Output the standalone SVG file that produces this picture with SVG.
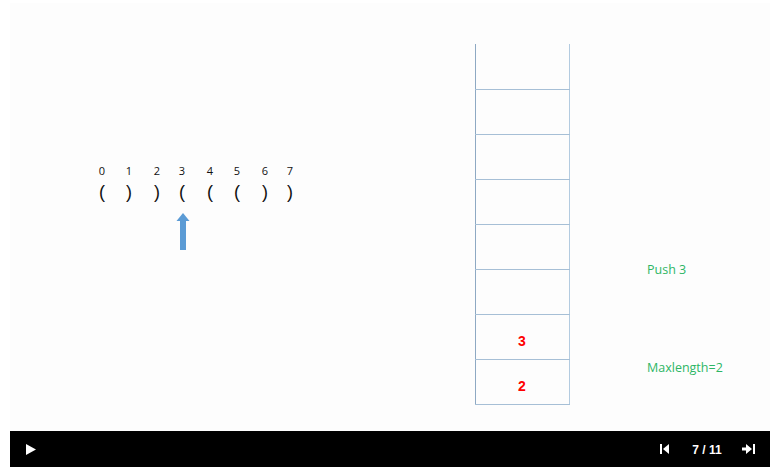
<svg xmlns="http://www.w3.org/2000/svg" width="773" height="467" viewBox="0 0 773 467">
<style>
.idx{font-family:"Open Sans","Liberation Sans",sans-serif;font-size:11px;fill:#111;text-anchor:middle}
.par{font-family:"Liberation Sans",sans-serif;font-size:18px;fill:#111;text-anchor:middle}
.cell{fill:none;stroke:#a6bfd6;stroke-width:1}
.val{font-family:"Liberation Sans",sans-serif;font-size:14px;font-weight:bold;fill:#ff0000;text-anchor:middle}
.note{font-family:"Open Sans","Liberation Sans",sans-serif;font-size:12.5px;fill:#2db665}
.ctl{fill:#ffffff}
</style>
<rect x="0" y="0" width="773" height="467" fill="#ffffff"/>
<rect x="10" y="3" width="760" height="428" fill="#fdfdfd"/>
<g id="indices">
<text class="idx" x="102" y="175">0</text>
<text class="idx" x="129" y="175">1</text>
<text class="idx" x="157" y="175">2</text>
<text class="idx" x="182" y="175">3</text>
<text class="idx" x="210" y="175">4</text>
<text class="idx" x="237" y="175">5</text>
<text class="idx" x="265" y="175">6</text>
<text class="idx" x="290" y="175">7</text>
</g>
<g id="parens">
<text class="par" x="102" y="198">(</text>
<text class="par" x="129" y="198">)</text>
<text class="par" x="157" y="198">)</text>
<text class="par" x="182" y="198">(</text>
<text class="par" x="210" y="198">(</text>
<text class="par" x="237" y="198">(</text>
<text class="par" x="265" y="198">)</text>
<text class="par" x="290" y="198">)</text>
</g>
<g id="pointer">
<polygon points="183,213 189.5,221 186,221 186,250 180,250 180,221 176.5,221" fill="#5b9bd5"/>
</g>
<g id="stack">
<line x1="475.5" y1="44" x2="475.5" y2="405" stroke="#8ea9c3"/>
<line x1="569.5" y1="44" x2="569.5" y2="405" stroke="#b3cbe0"/>
<line class="cell" x1="475" y1="89.5" x2="570" y2="89.5" stroke="#8ea9c3"/>
<line class="cell" x1="475" y1="134.5" x2="570" y2="134.5"/>
<line class="cell" x1="475" y1="179.5" x2="570" y2="179.5"/>
<line class="cell" x1="475" y1="224.5" x2="570" y2="224.5"/>
<line class="cell" x1="475" y1="269.5" x2="570" y2="269.5"/>
<line class="cell" x1="475" y1="314.5" x2="570" y2="314.5"/>
<line class="cell" x1="475" y1="359.5" x2="570" y2="359.5"/>
<line class="cell" x1="475" y1="404.5" x2="570" y2="404.5"/>
<text class="val" x="522" y="346">3</text>
<text class="val" x="522" y="391">2</text>
</g>
<g id="notes">
<text class="note" x="647" y="274">Push 3</text>
<text class="note" x="647" y="372">Maxlength=2</text>
</g>
<g id="controls">
<rect x="10" y="431" width="760" height="36" fill="#000000"/>
<polygon class="ctl" points="26,444 36,449.5 26,455"/>
<rect class="ctl" x="660" y="444" width="2" height="10"/>
<polygon class="ctl" points="663,449 669,444 669,454"/>
<text x="707" y="453.5" font-family="Liberation Sans,sans-serif" font-size="12" font-weight="bold" fill="#ffffff" text-anchor="middle">7 / 11</text>
<polygon class="ctl" points="742,447.5 746,447.5 746,444 752,449 746,454 746,450.5 742,450.5"/>
<rect class="ctl" x="753" y="444" width="2" height="10"/>
</g>
</svg>
